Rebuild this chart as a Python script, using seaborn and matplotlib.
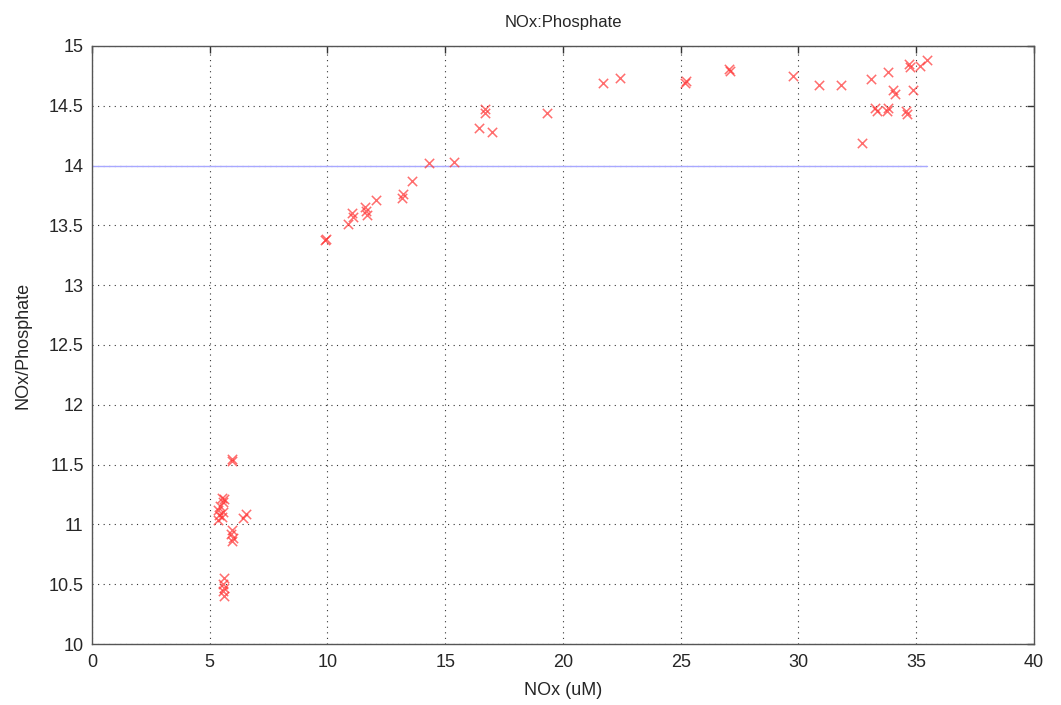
import matplotlib
matplotlib.use("Agg")
import matplotlib.pyplot as plt
import seaborn as sns
import pandas as pd

nox = [5.93, 5.95, 5.50, 5.55, 5.60, 5.45, 5.35, 5.40, 5.35, 5.50, 5.55, 6.55, 6.40,
       5.95, 5.90, 6.00, 5.95, 5.60, 5.55, 5.60, 5.55, 5.60,
       9.94, 9.90, 10.88, 11.03, 11.10, 11.59, 11.62, 11.66, 12.06, 13.19, 13.17,
       13.60, 14.31, 15.39, 16.45, 16.69, 16.70, 16.97, 19.33, 21.71, 22.42,
       25.21, 25.20, 27.05, 27.10, 29.75, 30.87, 31.80, 33.08, 33.79, 34.02, 34.08,
       33.25, 33.35, 33.81, 33.78, 34.55, 34.60, 34.68, 34.72, 35.16, 34.88, 35.44, 32.71]
ratio = [11.55, 11.53, 11.22, 11.19, 11.21, 11.15, 11.12, 11.08, 11.04, 11.06, 11.10, 11.09, 11.05,
         10.95, 10.92, 10.89, 10.86, 10.55, 10.50, 10.47, 10.44, 10.40,
         13.39, 13.38, 13.51, 13.60, 13.57, 13.65, 13.62, 13.59, 13.71, 13.76, 13.73,
         13.87, 14.02, 14.03, 14.31, 14.47, 14.44, 14.28, 14.44, 14.69, 14.73,
         14.71, 14.69, 14.81, 14.79, 14.75, 14.67, 14.67, 14.72, 14.78, 14.63, 14.60,
         14.48, 14.46, 14.48, 14.46, 14.46, 14.43, 14.85, 14.82, 14.83, 14.63, 14.88, 14.19]
redfield = 14.0
x_ticks = [0, 5, 10, 15, 20, 25, 30, 35, 40]
y_ticks = [10, 10.5, 11, 11.5, 12, 12.5, 13, 13.5, 14, 14.5, 15]

sns.set_style("white")
plt.rcParams['font.family'] = ['Liberation Sans', 'DejaVu Sans']

df = pd.DataFrame({"NOx": nox, "ratio": ratio})

fig = plt.figure(figsize=(10.61, 7.05), dpi=100)
ax = fig.add_axes([0.0867, 0.0865, 0.8878, 0.8483])

ax.plot([0, max(nox)], [redfield, redfield], color="#a8a8ff", lw=1, zorder=2)
sns.scatterplot(data=df, x="NOx", y="ratio", marker="x", color="#ff3030", s=45,
                linewidth=1.1, alpha=0.7, ax=ax, zorder=3)

ax.set_xlim(0, 40)
ax.set_ylim(10, 15)
ax.set_xticks(x_ticks)
ax.set_yticks(y_ticks)
ax.set_yticklabels([f"{v:g}" for v in y_ticks])
ax.grid(True, color="black", linestyle=(0, (1, 4)), linewidth=0.8, alpha=0.8)
ax.tick_params(direction="in", length=5, top=True, right=True, labelsize=13, width=1,
               color="#333333", pad=7)
ax.tick_params(axis="y", pad=6)
for s in ax.spines.values():
    s.set_color("#555555")
    s.set_linewidth(1)
ax.set_xlabel("NOx (uM)", fontsize=13, labelpad=8)
ax.set_ylabel("NOx/Phosphate", fontsize=13, labelpad=12)
ax.set_title("NOx:Phosphate", fontsize=12, pad=14)

fig.savefig("out.png", dpi=100)
